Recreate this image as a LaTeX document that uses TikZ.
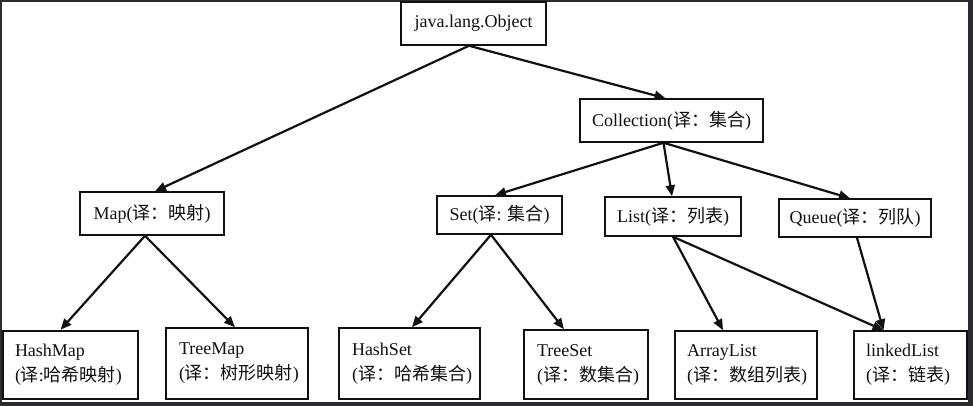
\documentclass[tikz,border=0pt]{standalone}
\usepackage{fontspec}
\setmainfont{Liberation Serif}
\newfontfamily\cjkf{Noto Sans CJK SC}
\usetikzlibrary{arrows.meta}
\newcommand\zhtxt[1]{{\cjkf #1}}
\definecolor{framec}{HTML}{2A2C30}
\definecolor{inkc}{HTML}{111111}
\tikzset{
  box/.style={draw=inkc, line width=1.5pt, inner sep=0pt, text=inkc,
    font=\fontsize{18}{25}\selectfont},
  leaf/.style={box, align=left},
  arr/.style={draw=inkc, line width=2.2pt, -{Triangle[length=11pt,width=9pt]}}
}
\begin{document}
\begin{tikzpicture}[x=1pt,y=-1pt]
\fill[framec] (0,0) rectangle (973,406);
\fill[white] (2,2) rectangle (968,402);
\useasboundingbox (0,0) rectangle (973,406);

\node[box, minimum width=145pt, minimum height=43pt] (obj) at (473.5,23.5) {java.lang.Object};
\node[box, minimum width=183pt, minimum height=43pt] (coll) at (671.5,120.5) {Collection(\zhtxt{译：集合})};
\node[box, minimum width=144pt, minimum height=43pt] (map) at (152,213.5) {Map(\zhtxt{译：映射})};
\node[box, minimum width=125pt, minimum height=38pt] (set) at (499.5,215) {Set(\zhtxt{译}: \zhtxt{集合})};
\node[box, minimum width=136pt, minimum height=39pt] (list) at (673,216.5) {List(\zhtxt{译：列表})};
\node[box, minimum width=152pt, minimum height=38pt] (queue) at (855,218) {Queue(\zhtxt{译：列队})};

\node[leaf, line width=2.4pt, minimum width=135pt, minimum height=68pt, text width=111pt] (hashmap) at (70.5,365) {HashMap\\(\zhtxt{译}:\zhtxt{哈希映射})};
\node[leaf, minimum width=142pt, minimum height=71pt, text width=116pt] (treemap) at (237,363.5) {TreeMap\\(\zhtxt{译：树形映射})};
\node[leaf, minimum width=141pt, minimum height=71pt, text width=115pt] (hashset) at (409.5,363.5) {HashSet\\(\zhtxt{译：哈希集合})};
\node[leaf, minimum width=124pt, minimum height=69pt, text width=98pt] (treeset) at (586,364.5) {TreeSet\\(\zhtxt{译：数集合})};
\node[leaf, minimum width=142pt, minimum height=68pt, text width=118pt] (arraylist) at (746,365) {ArrayList\\(\zhtxt{译：数组列表})};
\node[leaf, minimum width=113pt, minimum height=68pt, text width=89pt] (linkedlist) at (910.5,365) {linkedList\\(\zhtxt{译：链表})};

\draw[arr] ([xshift=-4.5pt]obj.south) -- ([xshift=3pt]map.north);
\draw[arr] ([xshift=-4.5pt]obj.south) -- ([xshift=-6pt]coll.north);
\draw[arr] ([xshift=-8pt]coll.south) -- ([xshift=-4.5pt]set.north);
\draw[arr] ([xshift=-8pt]coll.south) -- ([xshift=-1pt]list.north);
\draw[arr] ([xshift=-8pt]coll.south) -- ([xshift=-5pt]queue.north);
\draw[arr] ([xshift=-7pt]map.south) -- ([xshift=-10pt]hashmap.north);
\draw[arr] ([xshift=-7pt]map.south) -- ([xshift=-2pt]treemap.north);
\draw[arr] ([xshift=-8.5pt]set.south) -- ([xshift=2.5pt]hashset.north);
\draw[arr] ([xshift=-8.5pt]set.south) -- ([xshift=-22pt]treeset.north);
\draw[arr] (list.south) -- ([xshift=-23pt]arraylist.north);
\draw[arr] (list.south) -- ([xshift=-27pt]linkedlist.north);
\draw[arr] ([xshift=2pt]queue.south) -- ([xshift=-27pt]linkedlist.north);
\end{tikzpicture}
\end{document}
